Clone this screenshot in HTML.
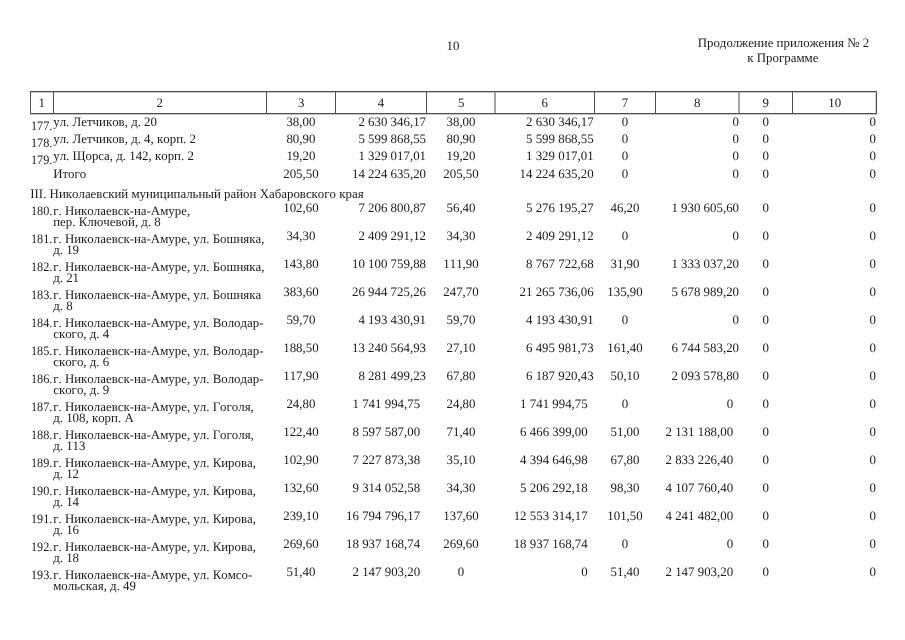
<!DOCTYPE html>
<html><head><meta charset="utf-8"><title>doc</title>
<style>
html,body{margin:0;padding:0;background:#fff;}
body{font-kerning:none;font-variant-ligatures:none;will-change:transform;text-rendering:geometricPrecision;width:905px;height:640px;position:relative;overflow:hidden;font-family:"Liberation Serif",serif;font-size:12.88px;color:#1c1c1c;}
.t{position:absolute;white-space:nowrap;line-height:15px;height:15px;}
.c{text-align:center;width:200px;}
.n{transform:scaleX(0.95);transform-origin:0 0;}
.l{position:absolute;}
</style></head><body>
<div class="t c " style="left:352.9px;top:39px;">10</div>
<div class="t c " style="left:683.4px;top:36px;">Продолжение приложения № 2</div>
<div class="t c " style="left:682.9px;top:51px;">к Программе</div>
<div class="l" style="left:30px;top:92px;width:847px;height:1px;background:#c6c6c6"></div>
<div class="l" style="left:30px;top:114px;width:847px;height:1px;background:#c6c6c6"></div>
<div class="l" style="left:875px;top:92px;width:1px;height:21px;background:#d4d4d4"></div>
<div class="l" style="left:494px;top:91px;width:1px;height:23px;background:#a4a4a4"></div>
<div class="l" style="left:495px;top:91px;width:1px;height:23px;background:#a4a4a4"></div>
<div class="l" style="left:738px;top:91px;width:1px;height:23px;background:#a4a4a4"></div>
<div class="l" style="left:739px;top:91px;width:1px;height:23px;background:#a4a4a4"></div>
<div class="l" style="left:30px;top:91px;width:1px;height:23px;background:#505050"></div>
<div class="l" style="left:53px;top:91px;width:1px;height:23px;background:#505050"></div>
<div class="l" style="left:266px;top:91px;width:1px;height:23px;background:#505050"></div>
<div class="l" style="left:335px;top:91px;width:1px;height:23px;background:#505050"></div>
<div class="l" style="left:426px;top:91px;width:1px;height:23px;background:#505050"></div>
<div class="l" style="left:594px;top:91px;width:1px;height:23px;background:#505050"></div>
<div class="l" style="left:655px;top:91px;width:1px;height:23px;background:#505050"></div>
<div class="l" style="left:792px;top:91px;width:1px;height:23px;background:#505050"></div>
<div class="l" style="left:876px;top:91px;width:1px;height:23px;background:#505050"></div>
<div class="l" style="left:30px;top:91px;width:847px;height:1px;background:#505050"></div>
<div class="l" style="left:30px;top:113px;width:847px;height:1px;background:#505050"></div>
<div class="t c " style="left:-58.2px;top:96px;">1</div>
<div class="t c " style="left:59.7px;top:96px;">2</div>
<div class="t c " style="left:201.3px;top:96px;">3</div>
<div class="t c " style="left:281.0px;top:96px;">4</div>
<div class="t c " style="left:361.2px;top:96px;">5</div>
<div class="t c " style="left:444.8px;top:96px;">6</div>
<div class="t c " style="left:525.0px;top:96px;">7</div>
<div class="t c " style="left:597.2px;top:96px;">8</div>
<div class="t c " style="left:665.7px;top:96px;">9</div>
<div class="t c " style="left:734.8px;top:96px;">10</div>
<div class="t " style="left:30.3px;top:187px;">III. Николаевский муниципальный район Хабаровского края</div>
<div class="t n" style="left:31.3px;top:119px;">177.</div>
<div class="t " style="left:53.2px;top:115px;">ул. Летчиков, д. 20</div>
<div class="t c " style="left:200.9px;top:115px;">38,00</div>
<div class="t " style="right:479.0px;top:115px;">2 630 346,17</div>
<div class="t c " style="left:361.0px;top:115px;">38,00</div>
<div class="t " style="right:311.4px;top:115px;">2 630 346,17</div>
<div class="t c " style="left:525.0px;top:115px;">0</div>
<div class="t " style="right:166.0px;top:115px;">0</div>
<div class="t c " style="left:665.7px;top:115px;">0</div>
<div class="t " style="right:29.0px;top:115px;">0</div>
<div class="t n" style="left:31.3px;top:136px;">178.</div>
<div class="t " style="left:53.2px;top:132px;">ул. Летчиков, д. 4, корп. 2</div>
<div class="t c " style="left:200.9px;top:132px;">80,90</div>
<div class="t " style="right:479.0px;top:132px;">5 599 868,55</div>
<div class="t c " style="left:361.0px;top:132px;">80,90</div>
<div class="t " style="right:311.4px;top:132px;">5 599 868,55</div>
<div class="t c " style="left:525.0px;top:132px;">0</div>
<div class="t " style="right:166.0px;top:132px;">0</div>
<div class="t c " style="left:665.7px;top:132px;">0</div>
<div class="t " style="right:29.0px;top:132px;">0</div>
<div class="t n" style="left:31.3px;top:153px;">179.</div>
<div class="t " style="left:53.2px;top:149px;">ул. Щорса, д. 142, корп. 2</div>
<div class="t c " style="left:200.9px;top:149px;">19,20</div>
<div class="t " style="right:479.0px;top:149px;">1 329 017,01</div>
<div class="t c " style="left:361.0px;top:149px;">19,20</div>
<div class="t " style="right:311.4px;top:149px;">1 329 017,01</div>
<div class="t c " style="left:525.0px;top:149px;">0</div>
<div class="t " style="right:166.0px;top:149px;">0</div>
<div class="t c " style="left:665.7px;top:149px;">0</div>
<div class="t " style="right:29.0px;top:149px;">0</div>
<div class="t " style="left:53.2px;top:167px;">Итого</div>
<div class="t c " style="left:200.9px;top:167px;">205,50</div>
<div class="t " style="right:479.0px;top:167px;">14 224 635,20</div>
<div class="t c " style="left:361.0px;top:167px;">205,50</div>
<div class="t " style="right:311.4px;top:167px;">14 224 635,20</div>
<div class="t c " style="left:525.0px;top:167px;">0</div>
<div class="t " style="right:166.0px;top:167px;">0</div>
<div class="t c " style="left:665.7px;top:167px;">0</div>
<div class="t " style="right:29.0px;top:167px;">0</div>
<div class="t n" style="left:31.3px;top:204px;">180.</div>
<div class="t " style="left:53.2px;top:204px;">г. Николаевск-на-Амуре,</div>
<div class="t " style="left:53.2px;top:215px;">пер. Ключевой, д. 8</div>
<div class="t c " style="left:200.9px;top:201px;">102,60</div>
<div class="t " style="right:479.0px;top:201px;">7 206 800,87</div>
<div class="t c " style="left:361.0px;top:201px;">56,40</div>
<div class="t " style="right:311.4px;top:201px;">5 276 195,27</div>
<div class="t c " style="left:525.0px;top:201px;">46,20</div>
<div class="t " style="right:166.0px;top:201px;">1 930 605,60</div>
<div class="t c " style="left:665.7px;top:201px;">0</div>
<div class="t " style="right:29.0px;top:201px;">0</div>
<div class="t n" style="left:31.3px;top:232px;">181.</div>
<div class="t " style="left:53.2px;top:232px;">г. Николаевск-на-Амуре, ул. Бошняка,</div>
<div class="t " style="left:53.2px;top:243px;">д. 19</div>
<div class="t c " style="left:200.9px;top:229px;">34,30</div>
<div class="t " style="right:479.0px;top:229px;">2 409 291,12</div>
<div class="t c " style="left:361.0px;top:229px;">34,30</div>
<div class="t " style="right:311.4px;top:229px;">2 409 291,12</div>
<div class="t c " style="left:525.0px;top:229px;">0</div>
<div class="t " style="right:166.0px;top:229px;">0</div>
<div class="t c " style="left:665.7px;top:229px;">0</div>
<div class="t " style="right:29.0px;top:229px;">0</div>
<div class="t n" style="left:31.3px;top:260px;">182.</div>
<div class="t " style="left:53.2px;top:260px;">г. Николаевск-на-Амуре, ул. Бошняка,</div>
<div class="t " style="left:53.2px;top:271px;">д. 21</div>
<div class="t c " style="left:200.9px;top:257px;">143,80</div>
<div class="t " style="right:479.0px;top:257px;">10 100 759,88</div>
<div class="t c " style="left:361.0px;top:257px;">111,90</div>
<div class="t " style="right:311.4px;top:257px;">8 767 722,68</div>
<div class="t c " style="left:525.0px;top:257px;">31,90</div>
<div class="t " style="right:166.0px;top:257px;">1 333 037,20</div>
<div class="t c " style="left:665.7px;top:257px;">0</div>
<div class="t " style="right:29.0px;top:257px;">0</div>
<div class="t n" style="left:31.3px;top:288px;">183.</div>
<div class="t " style="left:53.2px;top:288px;">г. Николаевск-на-Амуре, ул. Бошняка</div>
<div class="t " style="left:53.2px;top:299px;">д. 8</div>
<div class="t c " style="left:200.9px;top:285px;">383,60</div>
<div class="t " style="right:479.0px;top:285px;">26 944 725,26</div>
<div class="t c " style="left:361.0px;top:285px;">247,70</div>
<div class="t " style="right:311.4px;top:285px;">21 265 736,06</div>
<div class="t c " style="left:525.0px;top:285px;">135,90</div>
<div class="t " style="right:166.0px;top:285px;">5 678 989,20</div>
<div class="t c " style="left:665.7px;top:285px;">0</div>
<div class="t " style="right:29.0px;top:285px;">0</div>
<div class="t n" style="left:31.3px;top:316px;">184.</div>
<div class="t " style="left:53.2px;top:316px;">г. Николаевск-на-Амуре, ул. Володар-</div>
<div class="t " style="left:53.2px;top:327px;">ского, д. 4</div>
<div class="t c " style="left:200.9px;top:313px;">59,70</div>
<div class="t " style="right:479.0px;top:313px;">4 193 430,91</div>
<div class="t c " style="left:361.0px;top:313px;">59,70</div>
<div class="t " style="right:311.4px;top:313px;">4 193 430,91</div>
<div class="t c " style="left:525.0px;top:313px;">0</div>
<div class="t " style="right:166.0px;top:313px;">0</div>
<div class="t c " style="left:665.7px;top:313px;">0</div>
<div class="t " style="right:29.0px;top:313px;">0</div>
<div class="t n" style="left:31.3px;top:344px;">185.</div>
<div class="t " style="left:53.2px;top:344px;">г. Николаевск-на-Амуре, ул. Володар-</div>
<div class="t " style="left:53.2px;top:355px;">ского, д. 6</div>
<div class="t c " style="left:200.9px;top:341px;">188,50</div>
<div class="t " style="right:479.0px;top:341px;">13 240 564,93</div>
<div class="t c " style="left:361.0px;top:341px;">27,10</div>
<div class="t " style="right:311.4px;top:341px;">6 495 981,73</div>
<div class="t c " style="left:525.0px;top:341px;">161,40</div>
<div class="t " style="right:166.0px;top:341px;">6 744 583,20</div>
<div class="t c " style="left:665.7px;top:341px;">0</div>
<div class="t " style="right:29.0px;top:341px;">0</div>
<div class="t n" style="left:31.3px;top:372px;">186.</div>
<div class="t " style="left:53.2px;top:372px;">г. Николаевск-на-Амуре, ул. Володар-</div>
<div class="t " style="left:53.2px;top:383px;">ского, д. 9</div>
<div class="t c " style="left:200.9px;top:369px;">117,90</div>
<div class="t " style="right:479.0px;top:369px;">8 281 499,23</div>
<div class="t c " style="left:361.0px;top:369px;">67,80</div>
<div class="t " style="right:311.4px;top:369px;">6 187 920,43</div>
<div class="t c " style="left:525.0px;top:369px;">50,10</div>
<div class="t " style="right:166.0px;top:369px;">2 093 578,80</div>
<div class="t c " style="left:665.7px;top:369px;">0</div>
<div class="t " style="right:29.0px;top:369px;">0</div>
<div class="t n" style="left:31.3px;top:400px;">187.</div>
<div class="t " style="left:53.2px;top:400px;">г. Николаевск-на-Амуре, ул. Гоголя,</div>
<div class="t " style="left:53.2px;top:411px;">д. 108, корп. А</div>
<div class="t c " style="left:200.9px;top:397px;">24,80</div>
<div class="t " style="right:484.9px;top:397px;">1 741 994,75</div>
<div class="t c " style="left:361.0px;top:397px;">24,80</div>
<div class="t " style="right:317.3px;top:397px;">1 741 994,75</div>
<div class="t c " style="left:525.0px;top:397px;">0</div>
<div class="t " style="right:171.9px;top:397px;">0</div>
<div class="t c " style="left:665.7px;top:397px;">0</div>
<div class="t " style="right:29.0px;top:397px;">0</div>
<div class="t n" style="left:31.3px;top:428px;">188.</div>
<div class="t " style="left:53.2px;top:428px;">г. Николаевск-на-Амуре, ул. Гоголя,</div>
<div class="t " style="left:53.2px;top:439px;">д. 113</div>
<div class="t c " style="left:200.9px;top:425px;">122,40</div>
<div class="t " style="right:484.9px;top:425px;">8 597 587,00</div>
<div class="t c " style="left:361.0px;top:425px;">71,40</div>
<div class="t " style="right:317.3px;top:425px;">6 466 399,00</div>
<div class="t c " style="left:525.0px;top:425px;">51,00</div>
<div class="t " style="right:171.9px;top:425px;">2 131 188,00</div>
<div class="t c " style="left:665.7px;top:425px;">0</div>
<div class="t " style="right:29.0px;top:425px;">0</div>
<div class="t n" style="left:31.3px;top:456px;">189.</div>
<div class="t " style="left:53.2px;top:456px;">г. Николаевск-на-Амуре, ул. Кирова,</div>
<div class="t " style="left:53.2px;top:467px;">д. 12</div>
<div class="t c " style="left:200.9px;top:453px;">102,90</div>
<div class="t " style="right:484.9px;top:453px;">7 227 873,38</div>
<div class="t c " style="left:361.0px;top:453px;">35,10</div>
<div class="t " style="right:317.3px;top:453px;">4 394 646,98</div>
<div class="t c " style="left:525.0px;top:453px;">67,80</div>
<div class="t " style="right:171.9px;top:453px;">2 833 226,40</div>
<div class="t c " style="left:665.7px;top:453px;">0</div>
<div class="t " style="right:29.0px;top:453px;">0</div>
<div class="t n" style="left:31.3px;top:484px;">190.</div>
<div class="t " style="left:53.2px;top:484px;">г. Николаевск-на-Амуре, ул. Кирова,</div>
<div class="t " style="left:53.2px;top:495px;">д. 14</div>
<div class="t c " style="left:200.9px;top:481px;">132,60</div>
<div class="t " style="right:484.9px;top:481px;">9 314 052,58</div>
<div class="t c " style="left:361.0px;top:481px;">34,30</div>
<div class="t " style="right:317.3px;top:481px;">5 206 292,18</div>
<div class="t c " style="left:525.0px;top:481px;">98,30</div>
<div class="t " style="right:171.9px;top:481px;">4 107 760,40</div>
<div class="t c " style="left:665.7px;top:481px;">0</div>
<div class="t " style="right:29.0px;top:481px;">0</div>
<div class="t n" style="left:31.3px;top:512px;">191.</div>
<div class="t " style="left:53.2px;top:512px;">г. Николаевск-на-Амуре, ул. Кирова,</div>
<div class="t " style="left:53.2px;top:523px;">д. 16</div>
<div class="t c " style="left:200.9px;top:509px;">239,10</div>
<div class="t " style="right:484.9px;top:509px;">16 794 796,17</div>
<div class="t c " style="left:361.0px;top:509px;">137,60</div>
<div class="t " style="right:317.3px;top:509px;">12 553 314,17</div>
<div class="t c " style="left:525.0px;top:509px;">101,50</div>
<div class="t " style="right:171.9px;top:509px;">4 241 482,00</div>
<div class="t c " style="left:665.7px;top:509px;">0</div>
<div class="t " style="right:29.0px;top:509px;">0</div>
<div class="t n" style="left:31.3px;top:540px;">192.</div>
<div class="t " style="left:53.2px;top:540px;">г. Николаевск-на-Амуре, ул. Кирова,</div>
<div class="t " style="left:53.2px;top:551px;">д. 18</div>
<div class="t c " style="left:200.9px;top:537px;">269,60</div>
<div class="t " style="right:484.9px;top:537px;">18 937 168,74</div>
<div class="t c " style="left:361.0px;top:537px;">269,60</div>
<div class="t " style="right:317.3px;top:537px;">18 937 168,74</div>
<div class="t c " style="left:525.0px;top:537px;">0</div>
<div class="t " style="right:171.9px;top:537px;">0</div>
<div class="t c " style="left:665.7px;top:537px;">0</div>
<div class="t " style="right:29.0px;top:537px;">0</div>
<div class="t n" style="left:31.3px;top:568px;">193.</div>
<div class="t " style="left:53.2px;top:568px;">г. Николаевск-на-Амуре, ул. Комсо-</div>
<div class="t " style="left:53.2px;top:579px;">мольская, д. 49</div>
<div class="t c " style="left:200.9px;top:565px;">51,40</div>
<div class="t " style="right:484.9px;top:565px;">2 147 903,20</div>
<div class="t c " style="left:361.0px;top:565px;">0</div>
<div class="t " style="right:317.3px;top:565px;">0</div>
<div class="t c " style="left:525.0px;top:565px;">51,40</div>
<div class="t " style="right:171.9px;top:565px;">2 147 903,20</div>
<div class="t c " style="left:665.7px;top:565px;">0</div>
<div class="t " style="right:29.0px;top:565px;">0</div>
</body></html>
